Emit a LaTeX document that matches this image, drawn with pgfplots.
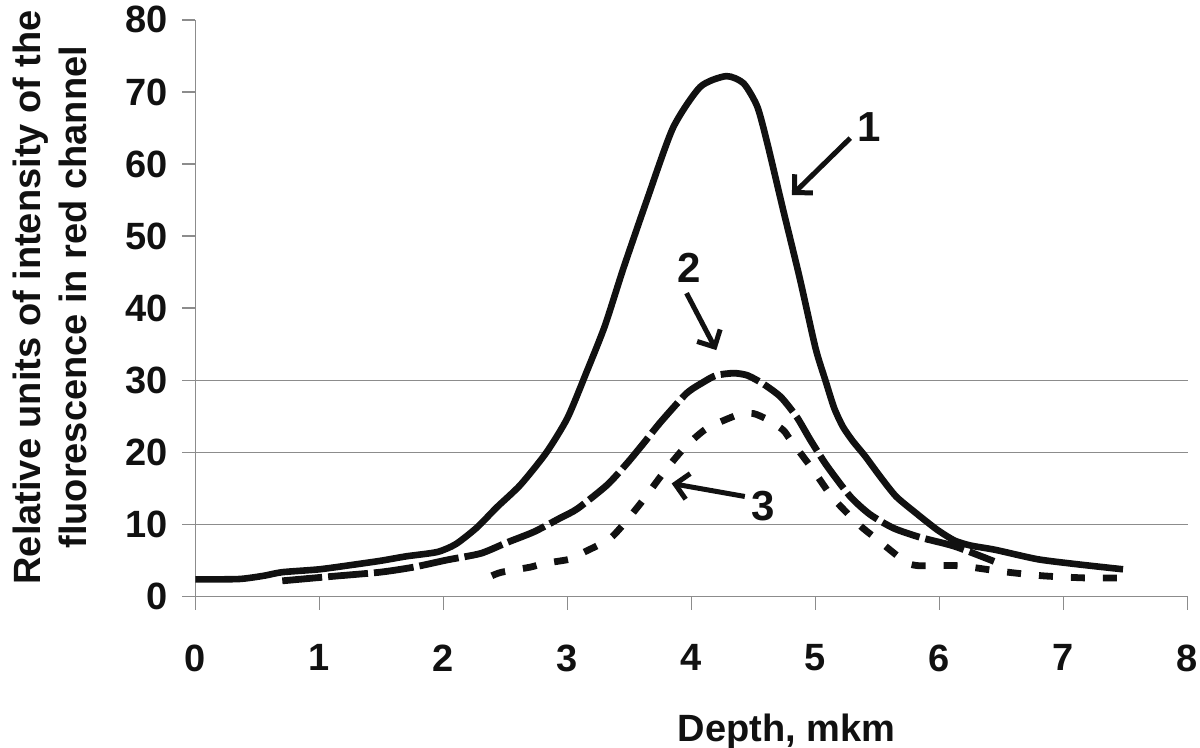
\documentclass[border=0pt]{standalone}
\usepackage{fontspec}
\setmainfont{Liberation Sans}
\usepackage{pgfplots}
\pgfplotsset{compat=1.18}
\usetikzlibrary{arrows.meta}
\definecolor{gridgray}{RGB}{140,140,140}
\definecolor{ink}{RGB}{17,17,17}
\begin{document}
\begin{tikzpicture}
\begin{axis}[
  scale only axis, width=496pt, height=288.4pt,
  at={(0,0)}, anchor=south west,
  xmin=0, xmax=8, ymin=0, ymax=80,
  xtick={0,1,...,8}, ytick={0,10,...,80},
  axis x line*=bottom, axis y line*=left,
  axis line style={draw=gridgray, line width=0.8pt, -},
  tick align=outside, major tick length=6.5pt,
  tick style={draw=gridgray, line width=0.8pt},
  extra y ticks={10,20,30}, extra y tick labels={},
  extra y tick style={grid=major, major tick length=0pt},
  major grid style={draw=gridgray, line width=0.8pt},
  /pgf/number format/assume math mode=true,
  ticklabel style={font=\bfseries\fontsize{19}{22}\selectfont, text=ink},
  xticklabel style={yshift=-14pt},
  yticklabel style={xshift=-4pt},
  label style={font=\bfseries\fontsize{19}{23}\selectfont, text=ink},
  xlabel={Depth, mkm},
  xlabel style={at={(axis description cs:0.596,-0.234)}, anchor=center},
  ylabel={Relative units of intensity of the\\fluorescence in red channel},
  ylabel style={at={(axis description cs:-0.1465,0.519)}, anchor=center, align=center},
  clip=false,
]
% Curve 1 (solid)
\addplot[ink, line width=3.3pt, smooth, tension=0.4, line join=round] coordinates {
(0,2.4) (0.35,2.45) (0.55,2.9) (0.7,3.4) (1.0,3.8) (1.3,4.5) (1.5,5.0) (1.7,5.6) (1.95,6.2)
(2.1,7.3) (2.27,9.6) (2.43,12.4) (2.62,15.5) (2.83,20) (3.0,24.8) (3.15,31) (3.3,37.5)
(3.45,45.5) (3.64,55) (3.85,65) (4.07,70.7) (4.28,72.2) (4.42,71.2) (4.53,68) (4.61,63)
(4.74,53.6) (4.87,44.4) (5.0,34.5) (5.08,30) (5.15,26.2) (5.22,23.6) (5.3,21.6) (5.4,19.5) (5.52,16.7)
(5.65,13.9) (5.81,11.6) (5.98,9.3) (6.12,7.8) (6.25,7.1) (6.45,6.5) (6.79,5.2) (7.11,4.5) (7.48,3.8)
};
% Curve 2 (long dash)
\addplot[ink, line width=3.4pt, smooth, tension=0.4, dash pattern=on 20pt off 3pt] coordinates {
(0.70,2.2) (1.09,2.8) (1.49,3.4) (1.76,4.1) (2.03,5.1) (2.30,6.0) (2.51,7.5) (2.73,9.0)
(2.94,10.9) (3.08,12.2) (3.32,15.5) (3.48,18.5) (3.61,21.2) (3.75,24.2) (3.96,28.2) (4.10,29.8)
(4.20,30.7) (4.34,31.0) (4.45,30.7) (4.58,29.5) (4.72,27.7) (4.85,24.9) (4.96,21.7) (5.09,18.2)
(5.28,13.9) (5.44,11.4) (5.63,9.5) (5.85,8.2) (6.12,7.0) (6.44,4.9)
};
% Curve 3 (short dash)
\addplot[ink, line width=3.4pt, smooth, tension=0.4, dash pattern=on 7pt off 9pt] coordinates {
(2.39,2.9) (2.47,3.4) (2.70,4.1) (2.81,4.6) (3.02,5.2) (3.10,5.9) (3.33,7.9) (3.45,10.0)
(3.61,13.4) (3.77,17.1) (3.94,20.6) (4.12,23.3) (4.37,25.2) (4.50,25.4) (4.62,24.5) (4.74,23.1)
(4.80,21.7) (4.98,17.6) (5.14,13.7) (5.35,10.0) (5.50,7.9) (5.72,4.9) (5.83,4.3) (6.15,4.3)
(6.50,3.5) (6.83,2.9) (7.18,2.6) (7.47,2.6)
};
% annotations
\draw[ink, line width=2.5pt, -{Straight Barb[length=6.5pt,width=13pt]}] (axis cs:5.28,63.6) -- (axis cs:4.81,55.7);
\node[font=\bfseries\fontsize{21}{24}\selectfont, text=ink] at (axis cs:5.43,65.1) {1};
\draw[ink, line width=2.5pt, -{Straight Barb[length=6.5pt,width=13pt]}] (axis cs:3.96,42.1) -- (axis cs:4.20,34.2);
\node[font=\bfseries\fontsize{21}{24}\selectfont, text=ink] at (axis cs:3.98,45.6) {2};
\draw[ink, line width=2.5pt, -{Straight Barb[length=6.5pt,width=13pt]}] (axis cs:4.43,13.9) -- (axis cs:3.84,15.7);
\node[font=\bfseries\fontsize{21}{24}\selectfont, text=ink] at (axis cs:4.58,12.6) {3};
\end{axis}
\pgfresetboundingbox
\useasboundingbox (-97.75pt,-75.65pt) rectangle (502.25pt,298.35pt);
\end{tikzpicture}
\end{document}
